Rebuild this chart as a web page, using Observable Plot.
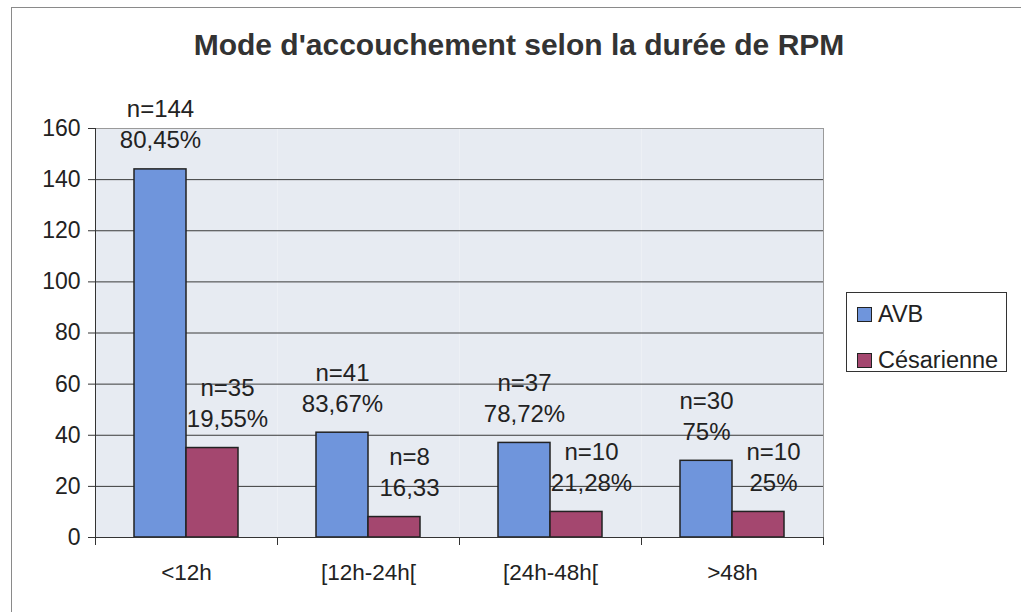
<!DOCTYPE html>
<html>
<head>
<meta charset="utf-8">
<script src="https://cdn.jsdelivr.net/npm/d3@7"></script>
<script src="https://cdn.jsdelivr.net/npm/@observablehq/plot@0.6"></script>
<style>
  html, body { margin: 0; padding: 0; background: #fff; overflow: hidden; }
  #wrap { position: relative; width: 1021px; height: 612px; font-family: "Liberation Sans", Arial, sans-serif; color: #222; }
  #chart { position: absolute; left: 0; top: 0; }
  #title { position: absolute; left: 0; top: 26px; width: 1038px; text-align: center; font-size: 30px; font-weight: bold; line-height: 38px; color: #333; }
  #legend { position: absolute; left: 846px; top: 292px; width: 159px; height: 78px; border: 1px solid #333; background: #fff; }
  .row { position: absolute; left: 10px; display: flex; align-items: center; font-size: 23.5px; line-height: 26px; }
  .sw { width: 13px; height: 13px; border: 1.5px solid #222; margin-right: 6px; }
  #border { position: absolute; left: 11px; top: 7px; width: 1012px; height: 640px; border: 1px solid #8a8a8a; pointer-events: none; }
</style>
</head>
<body>
<div id="wrap">
  <div id="chart"></div>
  <div id="title"></div>
  <div id="legend"></div>
  <div id="border"></div>
</div>
<script>
const title = "Mode d'accouchement selon la durée de RPM";
const categories = ["<12h", "[12h-24h[", "[24h-48h[", ">48h"];
const seriesNames = ["AVB", "Césarienne"];
const avbValues = [144, 41, 37, 30];
const cesValues = [35, 8, 10, 10];
const avbPct = ["80,45%", "83,67%", "78,72%", "75%"];
const cesPct = ["19,55%", "16,33", "21,28%", "25%"];
const yTicks = [0, 20, 40, 60, 80, 100, 120, 140, 160];
const colors = ["#6f95dc", "#a4476f"];

const rows = [];
categories.forEach((c, i) => {
  rows.push({cat: c, series: seriesNames[0], value: avbValues[i], pct: avbPct[i]});
  rows.push({cat: c, series: seriesNames[1], value: cesValues[i], pct: cesPct[i]});
});

const W = 1021, H = 612;
const mL = 95, mR = 198, mT = 128, mB = 75;
const plotH = H - mT - mB;

const chart = Plot.plot({
  width: W, height: H,
  marginLeft: mL, marginRight: mR, marginTop: mT, marginBottom: mB,
  style: {background: "transparent", overflow: "visible", fontFamily: "'Liberation Sans', Arial, sans-serif", color: "#222"},
  fx: {domain: categories, padding: 0, label: null},
  x: {domain: seriesNames, paddingInner: 0, paddingOuter: 0.75, axis: null},
  y: {domain: [0, 160], label: null},
  color: {domain: seriesNames, range: colors},
  marks: [
    Plot.frame({fill: "#e7ebf2", stroke: "none"}),
    Plot.ruleY(yTicks.filter(t => t > 0 && t < 160), {stroke: "#3a3a3a", strokeWidth: 1}),
    Plot.frame({anchor: "top", stroke: "#9a9a9a"}),
    Plot.frame({anchor: "right", facetAnchor: "right", stroke: "#9a9a9a"}),
    Plot.barY(rows, {fx: "cat", x: "series", y: "value", fill: "series", stroke: "#222", strokeWidth: 1.5}),
    Plot.frame({anchor: "left", facetAnchor: "left", stroke: "#333"}),
    Plot.frame({anchor: "bottom", stroke: "#333"}),
    Plot.frame({anchor: "left", insetTop: plotH, insetBottom: -7, stroke: "#333"}),
    Plot.frame({anchor: "right", facetAnchor: "right", insetTop: plotH, insetBottom: -7, stroke: "#333"}),
    Plot.text(rows, {filter: d => d.series === seriesNames[0], fx: "cat", x: "series", y: "value",
      text: d => `n=${d.value}\n${d.pct}`, lineAnchor: "bottom", lineHeight: 1.3, dy: -21, fontSize: 24, fill: "#222"}),
    Plot.text(rows, {filter: d => d.series === seriesNames[1], fx: "cat", x: "series", y: "value",
      text: d => `n=${d.value}\n${d.pct}`, lineAnchor: "bottom", lineHeight: 1.3, dy: -21, dx: 15, fontSize: 24, fill: "#222"}),
    Plot.axisY({ticks: yTicks, tickSize: 7, tickPadding: 8, fontSize: 23, stroke: "#333", fill: "#222"}),
    Plot.axisFx({anchor: "bottom", tickSize: 0, tickPadding: 27, fontSize: 22.5, fill: "#222"})
  ]
});
document.getElementById("chart").appendChild(chart);
document.getElementById("title").textContent = title;

const legend = document.getElementById("legend");
seriesNames.forEach((s, i) => {
  const row = document.createElement("div");
  row.className = "row";
  row.style.top = (i === 0 ? 8 : 54) + "px";
  const sw = document.createElement("div");
  sw.className = "sw";
  sw.style.background = colors[i];
  const t = document.createElement("span");
  t.textContent = s;
  row.appendChild(sw);
  row.appendChild(t);
  legend.appendChild(row);
});
</script>
</body>
</html>
